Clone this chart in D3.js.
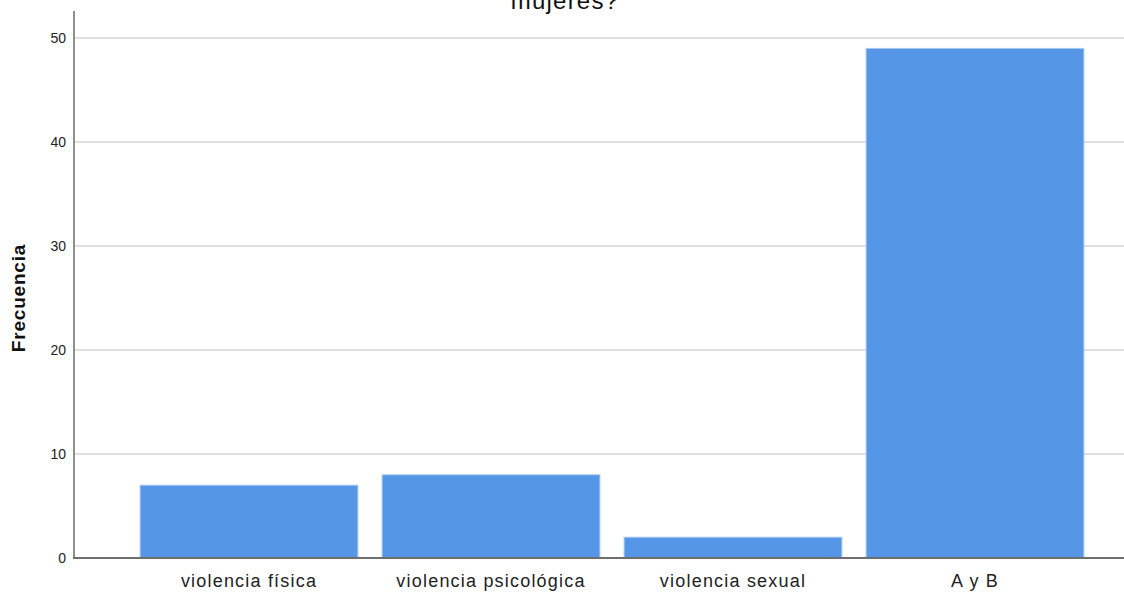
<!DOCTYPE html>
<html>
<head>
<meta charset="utf-8">
<script src="https://cdn.jsdelivr.net/npm/d3@7"></script>
<style>
  body { margin: 0; background: #fff; }
  text { font-family: "Liberation Sans", Arial, sans-serif; }
</style>
</head>
<body>
<div id="chart"></div>
<script>
var categories = ['violencia física', 'violencia psicológica', 'violencia sexual', 'A y B'];
var freqs = [7, 8, 2, 49];
var yTicks = [0, 10, 20, 30, 40, 50];

var W = 1124, H = 592;

var svg = d3.select('#chart')
            .append('svg')
            .attr('width', W)
            .attr('height', H)
            .style('background-color', 'white');

var y = d3.scaleLinear().domain([0, 50]).range([558, 38]);
var x = d3.scaleBand().domain(categories)
          .range([128, 1096])
          .paddingInner(0.1)
          .paddingOuter(0.05);

// gridlines
svg.append('g')
   .selectAll('line')
   .data(yTicks.filter(function(d){ return d > 0; }))
   .enter().append('line')
   .attr('x1', 75).attr('x2', W)
   .attr('y1', function(d){ return y(d); })
   .attr('y2', function(d){ return y(d); })
   .style('stroke', '#d6d6d6')
   .style('stroke-width', 1.6);

// bars
svg.append('g')
   .selectAll('rect')
   .data(freqs)
   .enter().append('rect')
   .attr('x', function(d, i){ return x(categories[i]); })
   .attr('y', function(d){ return y(d); })
   .attr('width', x.bandwidth())
   .attr('height', function(d){ return y(0) - y(d); })
   .style('fill', '#5596e6')
   .style('stroke', '#a8c8f2')
   .style('stroke-width', 1);

// y axis
var yAxis = d3.axisLeft(y).tickValues(yTicks).tickSize(0).tickPadding(8);
var gy = svg.append('g').attr('transform', 'translate(74,0)').call(yAxis);
gy.select('.domain').remove();
gy.selectAll('text')
  .style('font-size', '14px')
  .style('fill', '#222');
svg.append('line')
   .attr('x1', 74).attr('x2', 74)
   .attr('y1', 11).attr('y2', 559)
   .style('stroke', '#8f8f8f')
   .style('stroke-width', 2);

// x axis
var xAxis = d3.axisBottom(x).tickSize(0).tickPadding(16);
var gx = svg.append('g').attr('transform', 'translate(0,558)').call(xAxis);
gx.select('.domain').remove();
gx.selectAll('text')
  .style('font-size', '18px')
  .style('letter-spacing', '1.2px')
  .style('fill', '#222');
svg.append('line')
   .attr('x1', 73).attr('x2', W)
   .attr('y1', 558).attr('y2', 558)
   .style('stroke', '#6e6e6e')
   .style('stroke-width', 2);

// y label
svg.append('text')
   .attr('transform', 'translate(25,298) rotate(-90)')
   .attr('text-anchor', 'middle')
   .style('font-size', '19px')
   .style('font-weight', 'bold')
   .style('letter-spacing', '0.8px')
   .style('fill', '#111')
   .text('Frecuencia');

// title (cut off at top, as in the source)
svg.append('text')
   .attr('x', 565)
   .attr('y', 9)
   .attr('text-anchor', 'middle')
   .style('font-size', '24px')
   .style('letter-spacing', '1.2px')
   .style('fill', '#111')
   .text('mujeres?');
</script>
</body>
</html>
